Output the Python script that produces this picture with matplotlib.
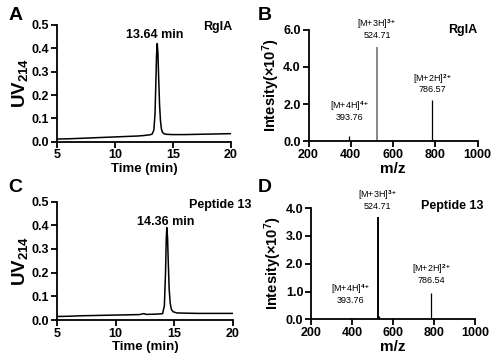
import matplotlib
matplotlib.use("Agg")
import matplotlib.pyplot as plt

plt.rcParams['font.family'] = ['Liberation Sans', 'DejaVu Sans']
plt.rcParams['font.weight'] = 'bold'
plt.rcParams['mathtext.fontset'] = 'custom'
plt.rcParams['mathtext.rm'] = 'Liberation Sans:bold'
plt.rcParams['mathtext.bf'] = 'Liberation Sans:bold'
plt.rcParams['mathtext.it'] = 'Liberation Sans:bold'

# Panel A: HPLC of RgIA
tA = [5, 6, 7, 8, 9, 10, 11, 12, 12.5, 13, 13.2, 13.35, 13.45, 13.52, 13.58, 13.64,
      13.7, 13.76, 13.84, 13.92, 14.0, 14.1, 14.25, 14.5, 15, 16, 17, 18, 19, 20]
uvA = [0.012, 0.013, 0.015, 0.017, 0.019, 0.021, 0.023, 0.025, 0.027, 0.03, 0.033, 0.05,
       0.12, 0.25, 0.37, 0.42, 0.38, 0.28, 0.16, 0.09, 0.055, 0.04, 0.034, 0.032, 0.031,
       0.031, 0.032, 0.033, 0.034, 0.035]

# Panel C: HPLC of Peptide 13
tC = [5, 6, 7, 8, 9, 10, 11, 12, 12.4, 12.6, 12.8, 13.5, 14.0, 14.15, 14.25, 14.31, 14.36,
      14.42, 14.48, 14.56, 14.65, 14.75, 14.9, 15.2, 16, 17, 18, 19, 20]
uvC = [0.015, 0.016, 0.018, 0.019, 0.02, 0.021, 0.022, 0.023, 0.027, 0.024, 0.024, 0.025,
       0.027, 0.06, 0.2, 0.34, 0.39, 0.35, 0.25, 0.13, 0.07, 0.045, 0.035, 0.03, 0.029,
       0.028, 0.028, 0.028, 0.028]

# Panel B: MS of RgIA
mzB = [393.76, 524.71, 786.57]
intB = [0.25, 5.1, 2.2]
# Panel D: MS of Peptide 13
mzD = [393.76, 524.71, 533.0, 786.54]
intD = [0.05, 3.69, 0.12, 0.93]

ionsB = [(393.76, r'[M+4H]$^{4+}$', '393.76', 1.51),
         (524.71, r'[M+3H]$^{3+}$', '524.71', 5.95),
         (786.57, r'[M+2H]$^{2+}$', '786.57', 3.0)]
ionsD = [(393.76, r'[M+4H]$^{4+}$', '393.76', 0.84),
         (524.71, r'[M+3H]$^{3+}$', '524.71', 4.22),
         (786.54, r'[M+2H]$^{2+}$', '786.54', 1.54)]

fig = plt.figure(figsize=(5, 3.6), dpi=100)

def style(ax):
    for s in ['top', 'right']:
        ax.spines[s].set_visible(False)
    for s in ['left', 'bottom']:
        ax.spines[s].set_linewidth(1.3)
    ax.tick_params(direction='out', length=4, width=1.3, labelsize=9, pad=1.5)
    for lab in ax.get_xticklabels() + ax.get_yticklabels():
        lab.set_fontweight('bold')

def hplc(rect, t, v, peak_label, peak_xy, name, name_xy, letter, letter_xy):
    ax = fig.add_axes(rect)
    ax.plot(t, v, color='black', lw=1.1)
    ax.set_xlim(5, 20)
    ax.set_ylim(0, 0.5)
    ax.set_xticks([5, 10, 15, 20])
    ax.set_yticks([0, 0.1, 0.2, 0.3, 0.4, 0.5])
    ax.set_yticklabels(['0.0', '0.1', '0.2', '0.3', '0.4', '0.5'])
    style(ax)
    ax.set_xlabel('Time (min)', fontsize=9.5, fontweight='bold', labelpad=1)
    ax.set_ylabel(r'UV$_{214}$', fontsize=13.5, fontweight='bold', labelpad=1)
    ax.text(peak_xy[0], peak_xy[1], peak_label, fontsize=9, fontweight='bold',
            ha='center', va='center', transform=fig.transFigure)
    ax.text(name_xy[0], name_xy[1], name, fontsize=9, fontweight='bold',
            ha='center', va='center', transform=fig.transFigure)
    fig.text(letter_xy[0], letter_xy[1], letter, fontsize=14, fontweight='bold',
             ha='center', va='center')
    return ax

def ms(rect, mz, inten, ymax, yt, ions, name, name_xy, letter, letter_xy, main_color):
    ax = fig.add_axes(rect)
    for m, h in zip(mz, inten):
        c = main_color if abs(m - 524.71) < 0.01 else 'black'
        lw = 1.4 if abs(m - 524.71) < 0.01 else 0.9
        ax.vlines(m, 0, h, color=c, lw=lw)
    ax.set_xlim(200, 1000)
    ax.set_ylim(0, ymax)
    ax.set_xticks([200, 400, 600, 800, 1000])
    ax.set_yticks(yt)
    ax.set_yticklabels(['%.1f' % y for y in yt])
    style(ax)
    ax.set_xlabel('m/z', fontsize=11, fontweight='bold', labelpad=1)
    ax.set_ylabel(r'Intesity($\times$10$^{7}$)', fontsize=10.5, fontweight='bold', labelpad=1)
    for m, lab1, lab2, y in ions:
        ax.text(m, y, lab1, fontsize=6.5, fontweight='normal', ha='center', va='bottom',
                clip_on=False)
        ax.text(m, y, lab2, fontsize=6.5, fontweight='normal', ha='center', va='top',
                clip_on=False)
    ax.text(name_xy[0], name_xy[1], name, fontsize=9, fontweight='bold',
            ha='center', va='center', transform=fig.transFigure)
    fig.text(letter_xy[0], letter_xy[1], letter, fontsize=14, fontweight='bold',
             ha='center', va='center')
    return ax

hplc([0.114, 0.606, 0.348, 0.325], tA, uvA, '13.64 min', (0.31, 0.903),
     'RgIA', (0.436, 0.925), 'A', (0.032, 0.958))
hplc([0.114, 0.111, 0.352, 0.329], tC, uvC, '14.36 min', (0.332, 0.383),
     'Peptide 13', (0.44, 0.431), 'C', (0.03, 0.478))
ms([0.617, 0.608, 0.338, 0.309], mzB, intB, 6.0, [0, 2.0, 4.0, 6.0], ionsB,
   'RgIA', (0.926, 0.917), 'B', (0.53, 0.958), '#888888')
ms([0.622, 0.113, 0.328, 0.309], mzD, intD, 4.0, [0, 1.0, 2.0, 3.0, 4.0], ionsD,
   'Peptide 13', (0.905, 0.428), 'D', (0.53, 0.478), 'black')

fig.savefig('out.png', dpi=100)
